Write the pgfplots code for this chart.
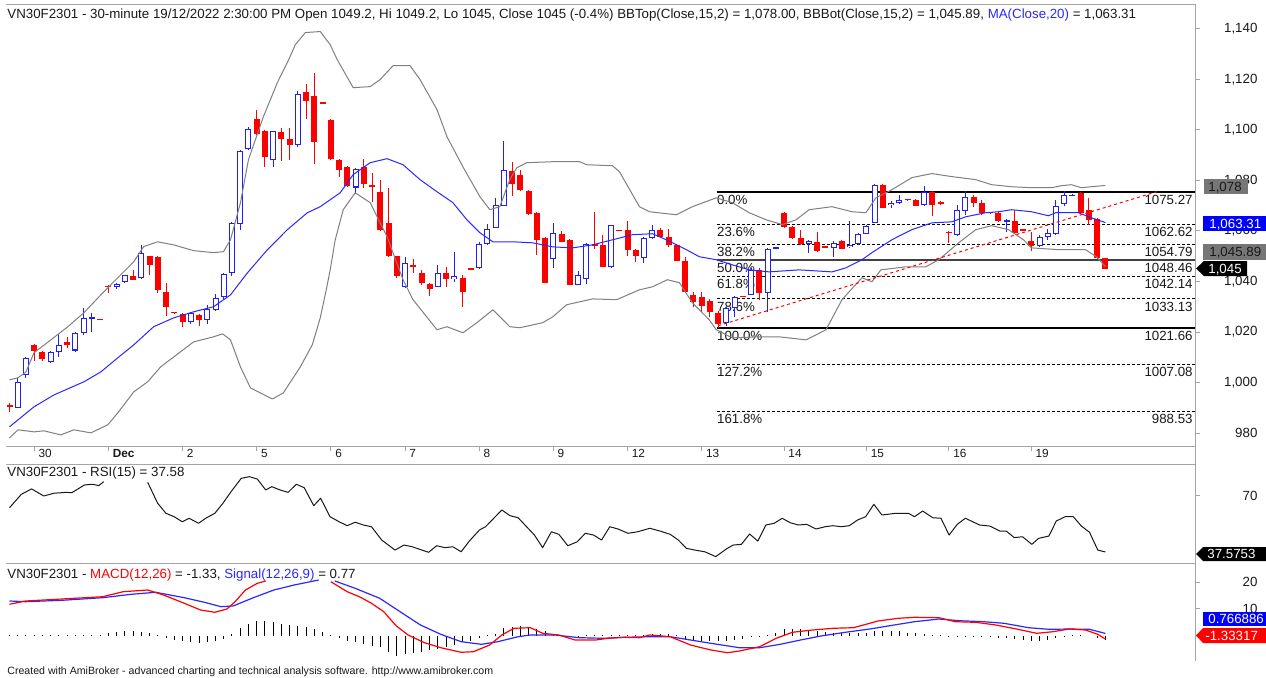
\documentclass[border=0pt]{standalone}
\usepackage{pgfplots}
\pgfplotsset{compat=1.18}
\usepackage{pgfplotstable}
\usepackage{fontspec}
\setmainfont{Liberation Sans}
\newdimen\pxu \pxu=0.5pt
\definecolor{cred}{RGB}{255,0,0}
\definecolor{cblue}{RGB}{30,30,255}
\definecolor{mablue}{RGB}{40,40,255}
\definecolor{bandgray}{RGB}{128,128,128}
\definecolor{framegray}{RGB}{165,165,165}
\definecolor{boxgray}{RGB}{118,118,118}
\definecolor{txt}{RGB}{25,25,25}
\newcommand\fA{\fontsize{6.65pt}{8pt}\selectfont}
\newcommand\fD{\fontsize{5.9pt}{7pt}\selectfont}
\newcommand\fF{\fontsize{5.3pt}{6.3pt}\selectfont}

\pgfplotstableread{
i O H L C
0 991 992 988.5 990.3
3 1014.9 1015.2 1008.5 1012.3
4 1012 1012.5 1008.5 1009.4
7 1016.2 1018 1013.6 1014.7
11 1025.2 1025.2 1025 1025.1
12 1038.3 1038.6 1035.4 1038
15 1042 1044.6 1040.5 1040.7
17 1049.9 1050.2 1042.7 1046.6
18 1049.7 1050 1035.4 1036.7
19 1035.8 1039.4 1026.4 1029.9
20 1027.8 1027.9 1027.5 1027.7
21 1027.2 1027.5 1021.9 1023.9
23 1026.8 1027 1022.3 1024.6
30 1104.4 1107.7 1098 1098.5
31 1099.4 1100 1085.5 1089.1
33 1099 1100.7 1087.5 1096.4
34 1096.4 1100.7 1087.9 1094.1
36 1115 1118.3 1104.3 1111.3
37 1113.3 1122.3 1086.6 1095.4
38 1110.8 1110.8 1110.6 1110.7
39 1103.8 1104.3 1088 1088.5
40 1088.2 1088.5 1081.3 1084.2
41 1085.3 1085.5 1077.5 1077.9
43 1085.3 1088.5 1077 1078.7
44 1078.2 1083 1071.3 1077.7
45 1075.6 1080 1060 1060.5
46 1063.1 1077 1049.5 1049.9
47 1049.9 1050 1041.5 1042
49 1046.4 1049 1043.5 1046
50 1043.3 1044.5 1038.7 1039.4
51 1039.1 1039.5 1034.3 1037
53 1043.3 1045.8 1037.8 1041.1
55 1041.4 1042.6 1030.1 1036
56 1045.1 1045.1 1044.9 1045
61 1083.6 1087.1 1073.7 1078.7
62 1082.3 1084.3 1076 1076.3
63 1076 1076.3 1066.5 1066.8
64 1067.3 1067.6 1050.6 1056.5
65 1057.2 1057.5 1039.5 1039.6
67 1058.9 1060 1055.5 1055.8
68 1056.5 1057 1038.5 1038.7
71 1054.9 1067.7 1052.8 1053.9
72 1054.5 1058.5 1045.6 1045.9
74 1060.3 1060.3 1060.1 1060.2
75 1060.2 1063.8 1050.2 1052.3
76 1052.3 1053 1047.9 1049.9
79 1060.5 1061 1057.5 1057.8
80 1057.8 1060.6 1053.5 1054.5
81 1054.5 1055 1048 1048.2
82 1048.2 1049.6 1035.5 1035.8
83 1034.7 1036 1030.1 1031.7
84 1033.8 1035.8 1028 1030.4
85 1032.4 1033 1026 1027.9
86 1027.7 1028.5 1021.66 1023
89 1034.2 1034.2 1034 1034.1
91 1044.6 1045.3 1032.8 1035.6
94 1067.1 1067.5 1061 1061.5
95 1061.5 1062 1057 1057.2
96 1057.2 1060.5 1054.5 1054.9
98 1055.8 1059.4 1051.6 1051.9
99 1053.7 1053.7 1053.5 1053.6
101 1056.2 1056.5 1052.7 1052.9
106 1078.3 1078.5 1069 1069.1
109 1072.5 1072.5 1072.3 1072.4
110 1072.4 1072.5 1069.8 1070
112 1075.6 1076 1066 1070.4
113 1071.6 1071.7 1070.4 1070.5
114 1059.6 1059.8 1055.2 1059.2
117 1073.4 1074.3 1069.6 1071
118 1071 1072.3 1066.4 1067.3
119 1067.4 1067.4 1067.2 1067.3
120 1067.3 1067.5 1063.5 1063.8
122 1063.8 1068.4 1059 1059.2
123 1060.6 1060.6 1060.4 1060.5
124 1056.2 1059.4 1051.9 1054.1
130 1075 1075.5 1067 1067.3
131 1068.4 1073 1062.5 1064.4
132 1064.7 1065 1049 1049.2
133 1049.2 1049.2 1045 1045
}\redc

\pgfplotstableread{
i O H L C
1 990 1001.7 989.8 1000.4
2 1002.8 1010.3 1002 1009.9
5 1008.3 1012.5 1007.8 1012
6 1012 1019.3 1010.3 1014.7
8 1012.7 1020.2 1012 1019.8
9 1019.6 1029.5 1019 1025.5
10 1025.3 1027.5 1020.2 1025.8
13 1038 1039.3 1037 1039
14 1039.6 1042.6 1039.3 1042.4
16 1041.3 1054.5 1041 1051.2
22 1023.9 1028 1023 1027.7
24 1024.6 1030.8 1023.1 1029.1
25 1028.8 1035.2 1028.5 1033.4
26 1033.8 1043.5 1033 1042.9
27 1043.3 1063.5 1042 1063.1
28 1062.8 1092 1060.2 1091.5
29 1092.4 1101 1092 1100.5
32 1087.9 1099.6 1085.5 1099.4
35 1094.1 1115.2 1093.2 1114.3
42 1077.2 1085 1075.2 1084.5
48 1038 1049.7 1037.5 1047.3
52 1038 1046.6 1037.8 1043.3
54 1041.1 1051.5 1039.6 1042
57 1045.3 1055.7 1045 1054.9
58 1054.8 1062.9 1054.5 1060.8
59 1061.1 1073 1061 1070.1
60 1070 1095.4 1069.8 1084
66 1049 1063.1 1045.3 1059.2
69 1038.7 1044 1038.5 1042.4
70 1041.1 1055.2 1039.2 1054.9
73 1045.9 1062.5 1045.5 1062.2
77 1049.3 1057.5 1047.3 1057.2
78 1057.2 1062.2 1057 1060.5
87 1023.5 1030 1022.5 1029.5
88 1029.5 1034.2 1026.1 1033.8
90 1034.7 1045.3 1034.5 1044.6
92 1035.6 1053.3 1028.1 1052.9
93 1053 1053.6 1053 1053.5
97 1054.9 1056.5 1051.2 1056.2
100 1053.2 1056.2 1049.7 1055.2
102 1053.6 1063.8 1053.3 1054.5
103 1054.9 1059.2 1054.5 1058.9
104 1058.9 1062.5 1058.7 1062.1
105 1063.1 1078.5 1063 1078.3
107 1070.1 1072 1069.1 1071
108 1071 1074.3 1070.5 1072.4
111 1070.4 1077.6 1070 1075.6
115 1058.5 1070.4 1058 1068.1
116 1067.7 1076 1066.3 1073.3
121 1063.8 1064.6 1059.6 1064.3
125 1053.9 1058.3 1053.6 1057.8
126 1057.8 1060.8 1056.5 1059.2
127 1058.9 1072.4 1058.5 1070
128 1070.6 1076 1070 1074.3
129 1074 1074.5 1074 1074.3
}\bluec

\pgfplotstableread{
i h
0 0.3
1 0.3
2 0.3
3 0.3
4 0.3
5 0.3
6 0.3
7 0.3
8 0.3
9 0.3
10 0.3
11 0.3
12 1.0
13 1.2
14 1.5
15 1.5
16 1.2
17 0.8
18 0.2
19 -1.0
20 -1.5
21 -1.9
22 -2.5
23 -2.75
24 -2.5
25 -2.0
26 -1.25
27 0.6
28 2.75
29 4.4
30 5.25
31 5.25
32 5.0
33 4.4
34 3.75
35 3.5
36 3.1
37 2.25
38 1.25
39 0.25
40 -1.0
41 -1.9
42 -2.5
43 -3.1
44 -3.75
45 -4.4
46 -6.25
47 -7.5
48 -6.9
49 -6.5
50 -6.25
51 -5.6
52 -5.0
53 -4.4
54 -3.5
55 -2.5
56 -1.9
57 -1.0
58 0.1
59 0.6
60 2.75
61 3.1
62 3.5
63 3.1
64 2.5
65 1.5
66 0.6
67 0.3
68 -0.3
69 -0.3
70 0.2
71 0.3
72 0.3
73 0.3
74 0.3
75 0.3
76 0.3
77 0.3
78 0.5
79 0.5
80 0.5
81 0.2
82 -1.2
83 -1.5
84 -2.0
85 -2.2
86 -2.2
87 -2.0
88 -1.5
89 -1.2
90 -0.5
91 -0.2
92 0.3
93 0.8
94 2.5
95 2.5
96 2.3
97 2.0
98 1.5
99 1.2
100 1.0
101 1.0
102 0.8
103 0.8
104 1.0
105 1.5
106 1.8
107 1.8
108 1.5
109 1.0
110 0.8
111 0.5
112 0.3
113 0.1
114 -0.2
115 -0.2
116 -0.3
117 -0.3
118 -0.4
119 -0.5
120 -0.8
121 -1.0
122 -1.2
123 -1.5
124 -2.0
125 -2.0
126 -1.5
127 -1.0
128 -0.3
129 0.2
130 0.2
131 0.0
132 -0.8
133 -1.5
}\histo

\pgfplotsset{
  panel/.style={
    scale only axis, width=1189\pxu,
    xmin=-0.425, xmax=143.87,
    axis line style={draw=none},
    tick style={draw=framegray, line width=1\pxu},
    tick align=outside, major tick length=5\pxu,
    ytick pos=right, yticklabel pos=right,
    yticklabel style={font=\fA, text=txt, anchor=west, inner sep=0pt, text width=57\pxu, align=right},
    every axis plot/.append style={line join=round},
  },
  candle/.style={only marks, mark=*, mark size=0pt, mark options={draw=none, fill=none},
    error bars/.cd, y dir=both, y explicit, error mark=none,
    error bar style={draw=#1}},
}

\begin{document}
\begin{tikzpicture}
\useasboundingbox (0,0) rectangle (1266\pxu,677\pxu);
\clip (0,0) rectangle (1266\pxu,677\pxu);
\fill[white] (0,0) rectangle (1266\pxu,677\pxu);

% ---------------- main price panel
\begin{axis}[panel,
  at={(6\pxu,231\pxu)}, anchor=south west, height=442\pxu,
  ymin=974.9, ymax=1149.8,
  ytick={980,1000,1020,1040,1060,1080,1100,1120,1140},
  yticklabels={980,{1,000},{1,020},{1,040},{1,060},{1,080},{1,100},{1,120},{1,140}},
  xtick={3,12,21,30,39,48,57,66,75,84,94,104,114,124},
  xticklabels={30,\textbf{Dec},2,5,6,7,8,9,12,13,14,15,16,19},
  xtick pos=bottom,
  xticklabel style={font=\fD, text=txt, anchor=north west, inner sep=0pt, xshift=4\pxu, yshift=2\pxu},
]
% Fibonacci levels
\addplot[black, line width=2\pxu] coordinates {(85.83,1075.27) (144,1075.27)};
\addplot[black, line width=1\pxu, dash pattern=on 3\pxu off 2\pxu] coordinates {(85.83,1062.62) (144,1062.62)};
\addplot[black, line width=1\pxu, dash pattern=on 3\pxu off 2\pxu] coordinates {(85.83,1054.79) (144,1054.79)};
\addplot[black!75, line width=1.4\pxu] coordinates {(85.83,1048.46) (144,1048.46)};
\addplot[black, line width=1\pxu, dash pattern=on 3\pxu off 2\pxu] coordinates {(85.83,1042.14) (144,1042.14)};
\addplot[black, line width=1\pxu, dash pattern=on 3\pxu off 2\pxu] coordinates {(85.83,1033.13) (144,1033.13)};
\addplot[black, line width=2\pxu] coordinates {(85.83,1021.66) (144,1021.66)};
\addplot[black, line width=1\pxu, dash pattern=on 3\pxu off 2\pxu] coordinates {(85.83,1007.08) (144,1007.08)};
\addplot[black, line width=1\pxu, dash pattern=on 3\pxu off 2\pxu] coordinates {(85.83,988.53) (144,988.53)};
\foreach \lv/\pc in {1075.27/0.0,1062.62/23.6,1054.79/38.2,1048.46/50.0,1042.14/61.8,1033.13/78.6,1021.66/100.0,1007.08/127.2,988.53/161.8}{
  \edef\tmp{\noexpand\node[anchor=north west, inner sep=0pt, font=\noexpand\fA, text=txt, yshift=-2.5\pxu] at (axis cs:85.83,\lv) {\pc\noexpand\%};
  \noexpand\node[anchor=north east, inner sep=0pt, font=\noexpand\fA, text=txt, yshift=-2.5\pxu] at (axis cs:143.63,\lv) {\lv};}
  \tmp
}
% wicks
\addplot[candle=cred, error bar style={line width=1\pxu}]
  table[x=i, y expr={(\thisrow{H}+\thisrow{L})/2}, y error expr={(\thisrow{H}-\thisrow{L})/2}] {\redc};
\addplot[candle=cblue, error bar style={line width=1\pxu}]
  table[x=i, y expr={(\thisrow{H}+\thisrow{L})/2}, y error expr={(\thisrow{H}-\thisrow{L})/2}] {\bluec};
% bodies
\addplot[candle=cred, error bar style={line width=6\pxu}]
  table[x=i, y expr={(\thisrow{O}+\thisrow{C})/2}, y error expr={max(abs(\thisrow{O}-\thisrow{C})/2,0.2)}] {\redc};
\addplot[candle=cblue, error bar style={line width=6\pxu}]
  table[x=i, y expr={(\thisrow{O}+\thisrow{C})/2}, y error expr={max(abs(\thisrow{O}-\thisrow{C})/2,0.2)}] {\bluec};
\addplot[candle=white, error bar style={line width=4\pxu}]
  table[x=i, y expr={(\thisrow{O}+\thisrow{C})/2}, y error expr={max(abs(\thisrow{O}-\thisrow{C})/2-0.4,0)}] {\bluec};
% Bollinger bands
\addplot[bandgray, line width=1\pxu] coordinates {(0,1001.1) (1.03,1001.9) (2,1004.2) (2.97,1011.8) (5.02,1016.9) (7.08,1022.1) (9.02,1027.6) (11.08,1034.7) (13.14,1041.5) (15.07,1047.8) (16.28,1053.8) (17.98,1055.7) (19.92,1054.5) (22.34,1052.2) (24.76,1051.4) (25.97,1051.8) (26.82,1056.5) (28.03,1071.2) (29,1088.2) (30.81,1105.2) (32.51,1118.7) (33.72,1126.6) (34.69,1133.7) (35.9,1138.5) (37.71,1138.9) (38.92,1133.7) (39.77,1127.8) (41.71,1116.7) (43.77,1117.1) (44.98,1119.9) (46.55,1125.4) (48.61,1125.4) (49.82,1119.9) (51.88,1108) (53.09,1097.3) (55.02,1085.4) (57.08,1073.6) (58.29,1068.4) (59.5,1069.6) (60.71,1080.3) (61.56,1085) (62.77,1087) (65.92,1087.4) (69.19,1087.4) (70.04,1086.2) (73.18,1085.8) (74.03,1083.4) (76.45,1069.6) (77.66,1067.6) (80.93,1066.4) (82.87,1069.6) (85.77,1073.1) (87.71,1071.2) (89.77,1067.2) (91.83,1064.4) (93.77,1062.5) (95.46,1064.4) (97.03,1068.4) (99.82,1069.6) (102.24,1067.6) (103.93,1067.2) (105.14,1073.1) (107.08,1076.3) (109.5,1081.1) (111.93,1082.7) (114.35,1081.5) (117.26,1080.3) (119.19,1078.3) (121.61,1077.5) (124.03,1077.1) (126.45,1077.1) (127.66,1077.9) (128.87,1078.3) (130.08,1077.1) (131.3,1077.5) (133,1078)};
\addplot[bandgray, line width=1\pxu] coordinates {(0,978.1) (1.03,981.3) (2.97,980.5) (4.18,980.9) (6.23,979.3) (7.81,981.3) (9.87,980.1) (11.93,983.3) (13.14,988) (15.07,996.3) (16.77,1000.3) (18.34,1006.2) (20.76,1012.2) (22.34,1016.1) (24.76,1018.1) (25.85,1019.3) (26.82,1016.9) (28.03,1006.2) (29.24,997.9) (31.9,993.5) (33.23,995.9) (35.29,1006.2) (36.74,1014.9) (37.71,1025.6) (38.44,1036.7) (38.92,1044.6) (39.53,1056.5) (40.5,1068.4) (41.95,1075.1) (43.77,1071.2) (45.82,1057.7) (47.76,1040.7) (48.97,1032.8) (51.88,1020.9) (53.09,1022.1) (55.02,1019.7) (56.72,1023.7) (58.66,1028.8) (60.71,1022.1) (61.92,1021.7) (64.71,1023.7) (65.92,1026) (67.62,1030.8) (70.76,1033.1) (73.67,1032.8) (76.45,1036.7) (78.03,1037.9) (79.84,1040.7) (81.3,1039.5) (82.87,1031.6) (84.93,1024.8) (85.77,1020.9) (87.71,1017.7) (90.98,1018.1) (93.4,1018.1) (96.67,1016.9) (99.09,1020.9) (101.03,1032.8) (103.45,1041.5) (104.66,1039.9) (105.75,1044.6) (108.78,1045.8) (111.2,1045.8) (112.77,1048.6) (115.19,1055.3) (117.26,1060.5) (119.19,1062.1) (121.25,1060.5) (123.06,1056.5) (124.03,1053.3) (127.3,1052.6) (130.57,1052.6) (131.9,1049.8) (133,1045.89)};
% MA 20
\addplot[mablue, line width=1\pxu] coordinates {(0,982.5) (2.97,990.4) (5.39,995.1) (9.02,1000.3) (11.08,1004.2) (13.14,1009.8) (15.07,1014.9) (17.49,1022.1) (19.92,1025.6) (22.34,1028) (24.76,1030) (26.82,1034.7) (28.87,1043.4) (31.3,1052.6) (33.72,1060.5) (36.14,1067.2) (37.71,1069.6) (40.13,1075.1) (41.71,1082.3) (43.77,1087) (45.82,1088.6) (47.76,1086.2) (49.82,1080.3) (51.88,1075.5) (53.81,1071.2) (55.51,1064.4) (57.08,1059.3) (58.66,1055.7) (61.08,1055.7) (63.5,1055.3) (65.92,1053.7) (68.35,1053.3) (70.76,1054.5) (73.18,1056.5) (75.6,1058.5) (78.03,1058.9) (79.72,1056.5) (82.14,1052.6) (83.71,1049.8) (85.77,1048.6) (87.71,1046.6) (89.77,1044.6) (92.19,1043.8) (95.82,1044.6) (99.82,1043.8) (101.51,1045.4) (103.45,1048.6) (104.66,1051.4) (107.08,1056.5) (109.5,1060.5) (111.93,1063.2) (114.35,1063.6) (116.04,1065.6) (118.46,1067.2) (120.04,1067.6) (121.61,1068.4) (124.03,1067.6) (126.09,1066) (126.94,1067.2) (129.72,1067.2) (131.3,1065.2) (133,1063.31)};
% trend line
\addplot[cred, line width=1\pxu, dash pattern=on 3\pxu off 3\pxu] coordinates {(86,1022.5) (139.2,1075.5)};
\end{axis}

% ---------------- RSI panel
\begin{axis}[panel,
  at={(6\pxu,114\pxu)}, anchor=south west, height=99\pxu,
  ymin=31.2, ymax=88.53, xtick=\empty,
  ytick={70}, yticklabels={70},
]
\addplot[txt, line width=1\pxu] coordinates {(0,63.2) (1.44,71) (2.68,74.1) (4.16,70) (5.39,71.6) (6.88,72.1) (7.57,71.9) (9.1,76.4) (10.08,76.8) (10.84,76) (11.43,78.3)};
\addplot[txt, line width=1\pxu] coordinates {(16.77,77.9) (17.98,65.8) (18.98,60) (19.98,58) (20.96,55.1) (21.8,57.1) (22.94,54.2) (23.91,57.4) (24.92,60) (25.9,65.8) (26.89,72.5) (28.12,80.2) (29.12,81.2) (30.08,79.8) (31.09,73.5) (31.83,75.4) (32.82,73.5) (33.81,72.1) (34.81,76.8) (35.77,74.8) (36.92,64.4) (37.76,68.7) (38.9,58) (39.99,55.1) (40.98,52.8) (41.95,54.8) (42.95,53.2) (43.93,52.2) (45.17,44.5) (46.79,38.7) (47.88,41.6) (48.87,40.6) (50.86,37.4) (51.84,41.2) (52.85,40.1) (53.81,40.6) (54.81,37.7) (55.8,43.9) (57.03,50.3) (57.77,52.2) (59.75,61.9) (60.74,58.6) (61.73,57.4) (63.7,47.4) (64.7,40.1) (65.77,49.3) (66.67,47.8) (67.76,41.2) (68.9,43.5) (69.88,48.4) (70.88,47.4) (71.85,44.5) (72.85,52.2) (73.84,50.9) (75.07,48.4) (76.24,49.3) (77.71,51.3) (78.95,49.7) (80.18,47.8) (81.17,44.5) (82.14,39.7) (83.15,38.7) (84.38,37.7) (85.71,34.9) (87.11,39.7) (87.83,41.6) (88.82,42) (89.82,48) (90.81,43.9) (91.79,53.2) (92.8,54.2) (93.77,57.1) (94.76,54.5) (95.75,53.2) (96.74,53.6) (97.88,50.9) (98.97,52.2) (99.94,52.8) (100.93,52.2) (101.92,52.8) (102.92,56.1) (103.9,58) (104.9,65.2) (105.87,59) (107.6,60) (109.09,60) (109.83,58) (110.82,61.3) (112.05,57.4) (113.04,57.1) (114.03,47.4) (115.02,53.6) (116,57.1) (117.74,53.2) (118.97,52.6) (120.2,49.7) (120.96,49.7) (121.94,45.9) (122.94,46.4) (124.07,42) (124.9,45.5) (126.14,46.8) (127.03,55.5) (128.11,58) (129.1,58) (130.08,52.6) (131.07,49) (132.07,38.7) (133,37.58)};
\end{axis}

% ---------------- MACD panel
\begin{axis}[panel,
  at={(6\pxu,16\pxu)}, anchor=south west, height=98\pxu,
  ymin=-9.55, ymax=27.15, xtick=\empty,
  ytick={10,20}, yticklabels={10,20},
]
\addplot[ycomb, black, line width=1\pxu, mark=none] table[x=i, y=h] {\histo};
\addplot[mablue, line width=1.2\pxu] coordinates {(0,12.92) (1.94,12.66) (6.36,13.18) (11.32,14.16) (14.78,15.43) (17.74,16.18) (21.21,14.16) (23.67,12.43) (25.65,10.79) (27.14,11.05) (29.6,14.16) (32.08,17.04) (34.55,18.91) (37.52,20.79)};
\addplot[mablue, line width=1.2\pxu] coordinates {(39.49,20.41) (41.95,17.68) (44.93,13.93) (47.4,8.91) (49.87,3.93) (52.34,0.45) (54.81,-2.32) (57.28,-3.3) (59.26,-2.32) (61.73,-0.45) (63.21,0.19) (66.16,0.19) (69.14,-0.82) (72.09,-1.05) (74.58,-0.67) (77.71,-0.45) (80.18,-0.45) (82.65,-1.69) (85.12,-2.92) (88.58,-4.57) (91.05,-4.57) (93.52,-3.3) (95.99,-1.69) (98.46,-0.19) (101.43,1.2) (104.39,2.43) (107.36,3.93) (109.83,5.17) (112.8,6.18) (115.26,5.54) (118.23,5.17) (120.7,4.57) (123.67,2.92) (126.14,2.32) (128.61,2.43) (131.07,2.32) (133,0.77)};
\addplot[cred, line width=1.2\pxu] coordinates {(0,11.69) (1.94,12.92) (6.36,13.67) (11.32,14.53) (13.79,16.4) (16.77,17.04) (18.7,15.17) (21.21,12.06) (23.18,9.55) (24.92,8.69) (26.39,9.93) (27.38,12.66) (28.63,17.04) (30.08,19.55) (31.09,20.41)};
\addplot[cred, line width=1.2\pxu] coordinates {(38.99,20.15) (39.99,18.28) (40.98,16.4) (42.46,14.53) (43.93,12.06) (45.42,8.91) (46.91,3.67) (48.37,0.19) (50.36,-2.7) (52.34,-4.57) (54.81,-6.29) (56.3,-6.07) (58.27,-3.56) (59.75,0.19) (61.23,2.7) (63.21,2.92) (64.71,0.82) (66.67,0.19) (68.64,-1.69) (71.13,-1.69) (72.6,-1.05) (74.58,-0.67) (76.45,-0.82) (77.71,0.19) (80.18,-0.45) (82.65,-3.56) (85.12,-5.43) (87.11,-6.44) (88.58,-5.81) (91.05,-4.19) (93.04,-1.05) (95.01,1.2) (97.48,2.06) (99.94,2.7) (102.42,2.92) (104.39,4.57) (105.39,5.43) (107.86,6.44) (109.83,6.82) (112.8,6.67) (114.77,5.17) (117.25,4.94) (119.71,3.93) (122.2,2.43) (124.66,0.82) (126.63,1.42) (128.61,2.43) (130.58,2.06) (132.07,0.45) (133,-1.33)};
\end{axis}

% ---------------- frame, titles, value boxes (image pixel coordinates, y downwards)
\begin{scope}[x=\pxu, y=-\pxu, shift={(0,677\pxu)}]
\draw[framegray, line width=1\pxu] (6,4) -- (1195,4);
\draw[framegray, line width=1\pxu] (6,446) -- (1195,446);
\draw[framegray, line width=1\pxu] (6,464) -- (1195,464);
\draw[framegray, line width=1\pxu] (6,563) -- (1195,563);
\draw[framegray, line width=1\pxu] (1195,4) -- (1195,661);

\node[anchor=base west, inner sep=0pt, font=\fA, text=txt] at (7,18.3)
 {VN30F2301 - 30-minute 19/12/2022 2:30:00 PM Open 1049.2, Hi 1049.2, Lo 1045, Close 1045 (-0.4\%) BBTop(Close,15,2) = 1,078.00, BBBot(Close,15,2) = 1,045.89, \textcolor{mablue}{MA(Close,20)} = 1,063.31};
\node[anchor=base west, inner sep=0pt, font=\fA, text=txt] at (7,476) {VN30F2301 - RSI(15) = 37.58};
\node[anchor=base west, inner sep=0pt, font=\fA, text=txt] at (7,578)
 {VN30F2301 - \textcolor{cred}{MACD(12,26)} = -1.33, \textcolor{mablue}{Signal(12,26,9)} = 0.77};
\node[anchor=base west, inner sep=0pt, font=\fF, text=txt] at (7,674)
 {Created with AmiBroker - advanced charting and technical analysis software. http://www.amibroker.com};

% value boxes
\fill[boxgray] (1204,179) rectangle (1248,194);
\node[anchor=base west, inner sep=0pt, font=\fA, text=txt] at (1208,191.2) {1,078};
\fill[blue] (1203,216) rectangle (1266,231);
\node[anchor=base west, inner sep=0pt, font=\fA, text=white] at (1209,228.2) {1,063.31};
\fill[boxgray] (1203,244) rectangle (1266,260);
\node[anchor=base west, inner sep=0pt, font=\fA, text=txt] at (1209,256.7) {1,045.89};
\fill[black] (1196,268.5) -- (1204,261) -- (1247,261) -- (1247,276) -- (1204,276) -- cycle;
\node[anchor=base west, inner sep=0pt, font=\fA, text=white] at (1208,273.2) {1,045};
\fill[black] (1196,554) -- (1203,547) -- (1266,547) -- (1266,561) -- (1203,561) -- cycle;
\node[anchor=base west, inner sep=0pt, font=\fA, text=white] at (1207,558.7) {37.5753};
\fill[blue] (1203,612) rectangle (1266,626);
\node[anchor=base west, inner sep=0pt, font=\fA, text=white] at (1208,623.5) {0.766886};
\fill[red] (1196,635.5) -- (1203,628) -- (1266,628) -- (1266,643) -- (1203,643) -- cycle;
\node[anchor=base west, inner sep=0pt, font=\fA, text=white] at (1205,640.3) {-1.33317};
\end{scope}
\end{tikzpicture}
\end{document}
